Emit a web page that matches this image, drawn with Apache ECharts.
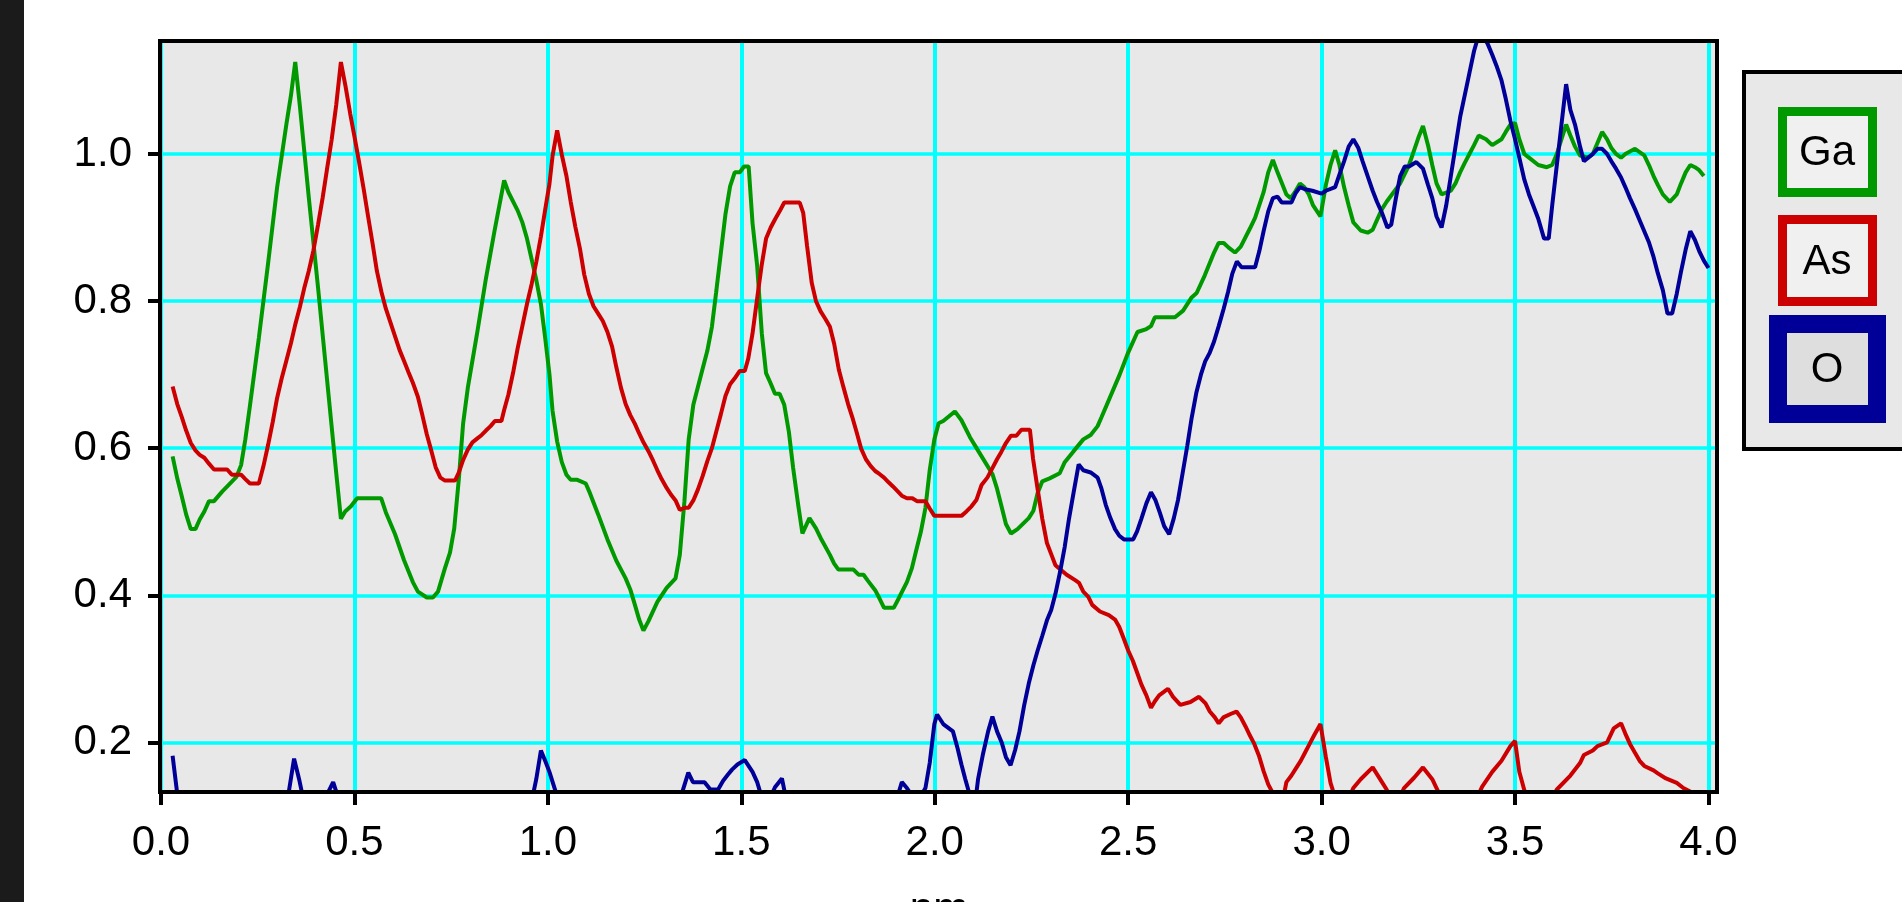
<!DOCTYPE html>
<html><head><meta charset="utf-8">
<script src="https://cdn.jsdelivr.net/npm/echarts@6/dist/echarts.min.js"></script>
<style>html,body{margin:0;padding:0;background:#fff;overflow:hidden}#c{width:1902px;height:902px}</style>
</head><body><div id="c"></div>
<script>
const seriesNames = ['Ga', 'As', 'O'];
const xTicks = [0, 0.5, 1.0, 1.5, 2.0, 2.5, 3.0, 3.5, 4.0];
const yTicks = [0.2, 0.4, 0.6, 0.8, 1.0];
const xAxisName = 'nm';

const gaData = [[0.030,0.589],[0.042,0.559],[0.054,0.534],[0.065,0.510],[0.077,0.490],[0.089,0.490],[0.100,0.503],[0.112,0.514],[0.124,0.528],[0.137,0.528],[0.158,0.541],[0.195,0.561],[0.207,0.577],[0.218,0.612],[0.230,0.658],[0.253,0.750],[0.277,0.852],[0.300,0.954],[0.324,1.040],[0.336,1.080],[0.347,1.125],[0.359,1.065],[0.382,0.941],[0.406,0.818],[0.441,0.630],[0.453,0.566],[0.465,0.504],[0.476,0.514],[0.491,0.521],[0.507,0.532],[0.569,0.532],[0.581,0.513],[0.605,0.483],[0.628,0.448],[0.651,0.418],[0.664,0.405],[0.687,0.397],[0.703,0.397],[0.716,0.405],[0.734,0.437],[0.747,0.458],[0.758,0.491],[0.770,0.559],[0.781,0.634],[0.793,0.682],[0.817,0.756],[0.840,0.831],[0.863,0.898],[0.875,0.931],[0.887,0.964],[0.898,0.948],[0.922,0.923],[0.934,0.907],[0.946,0.885],[0.970,0.829],[0.982,0.796],[0.993,0.750],[1.004,0.701],[1.012,0.651],[1.024,0.609],[1.036,0.581],[1.048,0.564],[1.059,0.557],[1.076,0.557],[1.098,0.552],[1.107,0.541],[1.130,0.510],[1.154,0.476],[1.177,0.447],[1.201,0.423],[1.213,0.408],[1.225,0.387],[1.236,0.367],[1.247,0.352],[1.260,0.365],[1.283,0.391],[1.307,0.410],[1.330,0.423],[1.341,0.455],[1.353,0.528],[1.364,0.612],[1.376,0.659],[1.400,0.708],[1.412,0.732],[1.424,0.765],[1.435,0.812],[1.447,0.865],[1.459,0.918],[1.471,0.956],[1.483,0.975],[1.496,0.975],[1.507,0.983],[1.519,0.983],[1.529,0.906],[1.541,0.848],[1.553,0.756],[1.564,0.702],[1.576,0.688],[1.587,0.674],[1.599,0.674],[1.611,0.659],[1.623,0.622],[1.634,0.573],[1.647,0.523],[1.658,0.484],[1.676,0.505],[1.693,0.491],[1.705,0.478],[1.729,0.455],[1.740,0.443],[1.751,0.435],[1.790,0.435],[1.803,0.428],[1.816,0.428],[1.827,0.420],[1.846,0.407],[1.857,0.396],[1.869,0.383],[1.894,0.383],[1.905,0.394],[1.928,0.418],[1.941,0.437],[1.952,0.461],[1.964,0.486],[1.976,0.519],[1.987,0.570],[1.999,0.612],[2.010,0.634],[2.022,0.637],[2.052,0.650],[2.069,0.638],[2.091,0.615],[2.114,0.595],[2.149,0.565],[2.161,0.545],[2.173,0.520],[2.184,0.497],[2.197,0.484],[2.214,0.490],[2.243,0.505],[2.255,0.515],[2.266,0.539],[2.278,0.555],[2.297,0.559],[2.323,0.566],[2.336,0.581],[2.359,0.596],[2.384,0.612],[2.403,0.618],[2.421,0.630],[2.431,0.642],[2.478,0.700],[2.500,0.730],[2.524,0.758],[2.547,0.762],[2.559,0.766],[2.569,0.778],[2.621,0.778],[2.642,0.787],[2.664,0.805],[2.677,0.811],[2.698,0.835],[2.722,0.866],[2.734,0.879],[2.747,0.879],[2.759,0.873],[2.776,0.866],[2.791,0.874],[2.815,0.899],[2.828,0.913],[2.850,0.948],[2.862,0.975],[2.874,0.992],[2.886,0.975],[2.909,0.945],[2.920,0.940],[2.931,0.948],[2.944,0.960],[2.955,0.955],[2.967,0.945],[2.978,0.930],[2.997,0.915],[3.011,0.958],[3.023,0.985],[3.035,1.005],[3.046,0.985],[3.058,0.955],[3.070,0.930],[3.082,0.907],[3.101,0.896],[3.119,0.893],[3.132,0.897],[3.143,0.910],[3.156,0.925],[3.168,0.935],[3.203,0.960],[3.226,0.985],[3.239,1.005],[3.250,1.022],[3.262,1.038],[3.275,1.012],[3.286,0.985],[3.297,0.960],[3.310,0.945],[3.334,0.950],[3.346,0.960],[3.358,0.975],[3.370,0.988],[3.382,1.000],[3.394,1.012],[3.406,1.025],[3.425,1.020],[3.441,1.012],[3.465,1.020],[3.476,1.030],[3.488,1.040],[3.500,1.042],[3.511,1.020],[3.524,1.000],[3.536,0.995],[3.560,0.985],[3.582,0.982],[3.596,0.985],[3.608,1.000],[3.620,1.020],[3.632,1.040],[3.643,1.025],[3.655,1.010],[3.668,0.998],[3.689,0.995],[3.701,1.000],[3.713,1.015],[3.725,1.030],[3.738,1.020],[3.749,1.008],[3.761,1.000],[3.774,0.995],[3.785,1.000],[3.810,1.007],[3.834,0.998],[3.846,0.985],[3.858,0.970],[3.869,0.958],[3.882,0.945],[3.900,0.935],[3.918,0.945],[3.929,0.960],[3.941,0.975],[3.953,0.985],[3.965,0.982],[3.976,0.978],[3.988,0.970]];

const asData = [[0.030,0.684],[0.042,0.660],[0.054,0.642],[0.065,0.624],[0.077,0.607],[0.089,0.597],[0.100,0.591],[0.112,0.587],[0.124,0.579],[0.137,0.571],[0.171,0.571],[0.183,0.564],[0.207,0.564],[0.218,0.558],[0.230,0.552],[0.253,0.552],[0.265,0.576],[0.277,0.605],[0.289,0.636],[0.300,0.668],[0.312,0.695],[0.324,0.719],[0.336,0.743],[0.347,0.768],[0.359,0.792],[0.370,0.817],[0.382,0.841],[0.394,0.869],[0.406,0.904],[0.418,0.941],[0.429,0.979],[0.441,1.019],[0.453,1.067],[0.465,1.125],[0.477,1.092],[0.489,1.055],[0.500,1.024],[0.512,0.989],[0.524,0.952],[0.535,0.916],[0.547,0.878],[0.558,0.841],[0.570,0.812],[0.581,0.790],[0.593,0.771],[0.605,0.752],[0.617,0.733],[0.628,0.719],[0.640,0.703],[0.651,0.689],[0.664,0.670],[0.676,0.644],[0.687,0.619],[0.699,0.596],[0.710,0.574],[0.722,0.560],[0.734,0.556],[0.760,0.556],[0.770,0.567],[0.781,0.584],[0.793,0.598],[0.805,0.608],[0.817,0.613],[0.829,0.618],[0.840,0.624],[0.852,0.630],[0.863,0.637],[0.880,0.637],[0.887,0.652],[0.898,0.673],[0.911,0.705],[0.922,0.736],[0.934,0.766],[0.946,0.796],[0.958,0.823],[0.970,0.853],[0.982,0.888],[0.993,0.924],[1.004,0.959],[1.012,0.997],[1.024,1.032],[1.036,0.999],[1.048,0.970],[1.059,0.935],[1.071,0.901],[1.083,0.871],[1.094,0.836],[1.106,0.810],[1.118,0.793],[1.130,0.783],[1.142,0.773],[1.154,0.758],[1.166,0.738],[1.177,0.710],[1.189,0.682],[1.201,0.660],[1.213,0.645],[1.225,0.633],[1.236,0.620],[1.247,0.608],[1.260,0.596],[1.272,0.583],[1.283,0.570],[1.294,0.558],[1.307,0.546],[1.318,0.537],[1.330,0.529],[1.341,0.516],[1.353,0.519],[1.364,0.519],[1.376,0.529],[1.388,0.544],[1.400,0.562],[1.412,0.582],[1.424,0.600],[1.435,0.622],[1.447,0.646],[1.459,0.671],[1.471,0.687],[1.483,0.695],[1.496,0.705],[1.509,0.705],[1.518,0.722],[1.529,0.756],[1.541,0.804],[1.553,0.850],[1.564,0.885],[1.576,0.900],[1.588,0.912],[1.599,0.922],[1.611,0.934],[1.651,0.934],[1.660,0.920],[1.670,0.875],[1.682,0.825],[1.693,0.800],[1.705,0.786],[1.717,0.776],[1.729,0.765],[1.740,0.742],[1.752,0.707],[1.764,0.683],[1.776,0.660],[1.787,0.642],[1.799,0.620],[1.810,0.599],[1.822,0.585],[1.834,0.576],[1.846,0.569],[1.857,0.565],[1.869,0.560],[1.880,0.554],[1.892,0.548],[1.905,0.541],[1.916,0.535],[1.928,0.532],[1.942,0.532],[1.954,0.528],[1.976,0.528],[1.987,0.518],[1.999,0.508],[2.069,0.508],[2.082,0.514],[2.095,0.521],[2.108,0.530],[2.121,0.550],[2.136,0.560],[2.149,0.573],[2.161,0.585],[2.172,0.595],[2.184,0.607],[2.197,0.617],[2.211,0.617],[2.224,0.625],[2.246,0.625],[2.254,0.586],[2.266,0.544],[2.278,0.504],[2.290,0.471],[2.301,0.456],[2.312,0.441],[2.341,0.428],[2.362,0.421],[2.373,0.417],[2.384,0.405],[2.397,0.398],[2.407,0.387],[2.427,0.378],[2.450,0.373],[2.466,0.367],[2.477,0.357],[2.488,0.342],[2.500,0.325],[2.512,0.311],[2.523,0.295],[2.534,0.279],[2.547,0.264],[2.559,0.247],[2.569,0.256],[2.580,0.264],[2.593,0.269],[2.603,0.273],[2.616,0.262],[2.635,0.251],[2.661,0.255],[2.683,0.262],[2.700,0.253],[2.711,0.242],[2.724,0.234],[2.734,0.226],[2.746,0.234],[2.766,0.239],[2.780,0.242],[2.791,0.234],[2.803,0.222],[2.815,0.209],[2.826,0.198],[2.838,0.182],[2.850,0.161],[2.862,0.143],[2.880,0.125],[2.901,0.125],[2.909,0.146],[2.922,0.155],[2.934,0.165],[2.946,0.175],[2.957,0.186],[2.968,0.197],[2.980,0.209],[2.997,0.225],[3.011,0.180],[3.023,0.145],[3.050,0.100],[3.082,0.138],[3.101,0.150],[3.132,0.166],[3.156,0.146],[3.168,0.136],[3.190,0.110],[3.213,0.138],[3.239,0.152],[3.262,0.166],[3.286,0.150],[3.297,0.138],[3.330,0.100],[3.380,0.100],[3.415,0.140],[3.441,0.160],[3.465,0.175],[3.488,0.195],[3.500,0.202],[3.511,0.160],[3.524,0.135],[3.560,0.100],[3.596,0.125],[3.608,0.136],[3.643,0.155],[3.668,0.172],[3.678,0.183],[3.701,0.189],[3.713,0.195],[3.738,0.200],[3.755,0.219],[3.774,0.226],[3.785,0.212],[3.797,0.198],[3.810,0.186],[3.822,0.175],[3.834,0.168],[3.858,0.162],[3.869,0.158],[3.890,0.151],[3.918,0.145],[3.935,0.138],[3.965,0.130],[3.990,0.125]];

const oData = [[0.030,0.182],[0.042,0.130],[0.060,0.090],[0.100,0.070],[0.200,0.080],[0.300,0.090],[0.331,0.135],[0.344,0.178],[0.357,0.150],[0.369,0.120],[0.400,0.100],[0.430,0.130],[0.445,0.146],[0.458,0.125],[0.500,0.090],[0.600,0.080],[0.700,0.090],[0.800,0.080],[0.900,0.100],[0.960,0.125],[0.970,0.150],[0.982,0.189],[0.993,0.175],[1.004,0.160],[1.016,0.140],[1.028,0.120],[1.100,0.090],[1.200,0.080],[1.300,0.100],[1.340,0.120],[1.363,0.159],[1.375,0.146],[1.405,0.146],[1.420,0.136],[1.440,0.136],[1.453,0.148],[1.465,0.156],[1.476,0.163],[1.490,0.170],[1.509,0.176],[1.529,0.160],[1.541,0.146],[1.553,0.125],[1.575,0.125],[1.587,0.139],[1.605,0.151],[1.617,0.120],[1.700,0.090],[1.800,0.090],[1.900,0.120],[1.915,0.146],[1.928,0.138],[1.941,0.128],[1.965,0.128],[1.976,0.138],[1.987,0.172],[1.999,0.225],[2.006,0.238],[2.022,0.225],[2.047,0.215],[2.059,0.192],[2.069,0.170],[2.079,0.150],[2.095,0.120],[2.105,0.120],[2.112,0.150],[2.125,0.185],[2.138,0.215],[2.149,0.235],[2.161,0.215],[2.173,0.200],[2.184,0.180],[2.196,0.169],[2.208,0.190],[2.219,0.215],[2.231,0.250],[2.243,0.280],[2.255,0.305],[2.266,0.325],[2.278,0.345],[2.290,0.366],[2.301,0.380],[2.312,0.402],[2.324,0.432],[2.336,0.466],[2.347,0.504],[2.359,0.540],[2.372,0.578],[2.384,0.570],[2.403,0.567],[2.421,0.560],[2.431,0.545],[2.442,0.523],[2.454,0.505],[2.466,0.490],[2.477,0.481],[2.489,0.476],[2.513,0.476],[2.523,0.487],[2.534,0.504],[2.547,0.525],[2.559,0.540],[2.570,0.530],[2.582,0.512],[2.593,0.494],[2.606,0.483],[2.618,0.505],[2.629,0.530],[2.641,0.567],[2.653,0.604],[2.664,0.641],[2.676,0.675],[2.688,0.700],[2.699,0.718],[2.711,0.730],[2.722,0.745],[2.734,0.766],[2.747,0.790],[2.758,0.812],[2.769,0.837],[2.781,0.854],[2.793,0.846],[2.828,0.846],[2.839,0.868],[2.850,0.895],[2.862,0.922],[2.874,0.940],[2.886,0.942],[2.897,0.934],[2.922,0.934],[2.933,0.947],[2.944,0.955],[2.957,0.952],[2.976,0.950],[3.000,0.946],[3.011,0.950],[3.035,0.955],[3.046,0.972],[3.058,0.990],[3.070,1.010],[3.082,1.020],[3.095,1.008],[3.106,0.990],[3.119,0.970],[3.132,0.950],[3.143,0.935],[3.156,0.920],[3.170,0.900],[3.180,0.904],[3.192,0.940],[3.203,0.970],[3.215,0.983],[3.226,0.983],[3.245,0.989],[3.262,0.980],[3.275,0.958],[3.286,0.940],[3.297,0.915],[3.310,0.900],[3.322,0.930],[3.334,0.970],[3.346,1.010],[3.358,1.050],[3.370,1.080],[3.382,1.110],[3.394,1.140],[3.405,1.160],[3.417,1.160],[3.429,1.150],[3.441,1.135],[3.452,1.120],[3.465,1.100],[3.476,1.075],[3.488,1.045],[3.500,1.020],[3.511,0.995],[3.524,0.965],[3.536,0.945],[3.547,0.930],[3.560,0.912],[3.575,0.885],[3.587,0.885],[3.596,0.930],[3.608,0.985],[3.620,1.040],[3.632,1.095],[3.643,1.060],[3.655,1.040],[3.668,1.010],[3.678,0.990],[3.689,0.995],[3.701,1.000],[3.713,1.007],[3.725,1.007],[3.738,1.000],[3.749,0.990],[3.761,0.980],[3.774,0.968],[3.785,0.955],[3.797,0.940],[3.810,0.925],[3.822,0.910],[3.834,0.895],[3.846,0.880],[3.858,0.860],[3.869,0.838],[3.882,0.815],[3.894,0.783],[3.906,0.783],[3.918,0.810],[3.929,0.840],[3.941,0.870],[3.953,0.895],[3.965,0.883],[3.976,0.868],[3.988,0.855],[4.000,0.845]];

const colors = ['#009900', '#cc0000', '#000099'];
const FONT = '"Liberation Sans", Arial, sans-serif';

const chart = echarts.init(document.getElementById('c'), null, {renderer: 'canvas'});
const fmt = v => Number(v).toFixed(1);

const option = {
  animation: false,
  backgroundColor: '#ffffff',
  grid: {left: 161, top: 41, width: 1556, height: 751, show: true, backgroundColor: '#e8e8e8', borderWidth: 0, containLabel: false, outerBoundsMode: 'none'},
  xAxis: {
    type: 'value', min: 0, max: 4.022, interval: 0.5,
    name: xAxisName, nameLocation: 'middle', nameGap: 97,
    nameTextStyle: {fontSize: 42, fontFamily: FONT, color: '#000'},
    axisLine: {show: false},
    axisTick: {show: true, length: 13, customValues: xTicks, lineStyle: {color: '#000', width: 4}},
    axisLabel: {customValues: xTicks, formatter: fmt, fontSize: 42, fontFamily: FONT, color: '#000', margin: 30},
    splitLine: {show: true, lineStyle: {color: '#00ffff', width: 4}}
  },
  yAxis: {
    type: 'value', min: 0.1326, max: 1.1536, splitNumber: 5,
    axisLine: {show: false},
    axisTick: {show: true, length: 13, customValues: yTicks, lineStyle: {color: '#000', width: 4}},
    axisLabel: {customValues: yTicks, formatter: fmt, fontSize: 42, fontFamily: FONT, color: '#000', margin: 29},
    splitLine: {show: true, lineStyle: {color: '#00ffff', width: 3.5}}
  },
  series: [gaData, asData, oData].map((d, i) => ({
    name: seriesNames[i], type: 'line', data: d, showSymbol: false, symbol: 'none',
    clip: true, lineStyle: {color: colors[i], width: 4}, itemStyle: {color: colors[i]}, z: 3 + i
  })),
  graphic: [
    {type: 'rect', shape: {x: 0, y: 0, width: 24, height: 902}, style: {fill: '#1b1b1b'}, z: 50},
    {type: 'rect', shape: {x: 160, y: 41, width: 1557, height: 751}, style: {fill: null, stroke: '#000', lineWidth: 4}, z: 100},
    {type: 'rect', shape: {x: 1744, y: 72, width: 200, height: 377}, style: {fill: '#e8e8e8', stroke: '#000', lineWidth: 4}, z: 100},
    {type: 'rect', shape: {x: 1782.5, y: 111.5, width: 90, height: 81}, style: {fill: '#f0f0f0', stroke: colors[0], lineWidth: 9}, z: 101},
    {type: 'text', x: 1827, y: 153, style: {text: seriesNames[0], font: '42px ' + FONT, fill: '#000', align: 'center', verticalAlign: 'middle'}, z: 102},
    {type: 'rect', shape: {x: 1782.5, y: 219.5, width: 90, height: 82}, style: {fill: '#f0f0f0', stroke: colors[1], lineWidth: 9}, z: 101},
    {type: 'text', x: 1827, y: 262, style: {text: seriesNames[1], font: '42px ' + FONT, fill: '#000', align: 'center', verticalAlign: 'middle'}, z: 102},
    {type: 'rect', shape: {x: 1778, y: 324, width: 99, height: 90}, style: {fill: '#dedede', stroke: colors[2], lineWidth: 18}, z: 101},
    {type: 'text', x: 1827, y: 370, style: {text: seriesNames[2], font: '42px ' + FONT, fill: '#000', align: 'center', verticalAlign: 'middle'}, z: 102}
  ]
};
chart.setOption(option);
</script>
</body></html>
